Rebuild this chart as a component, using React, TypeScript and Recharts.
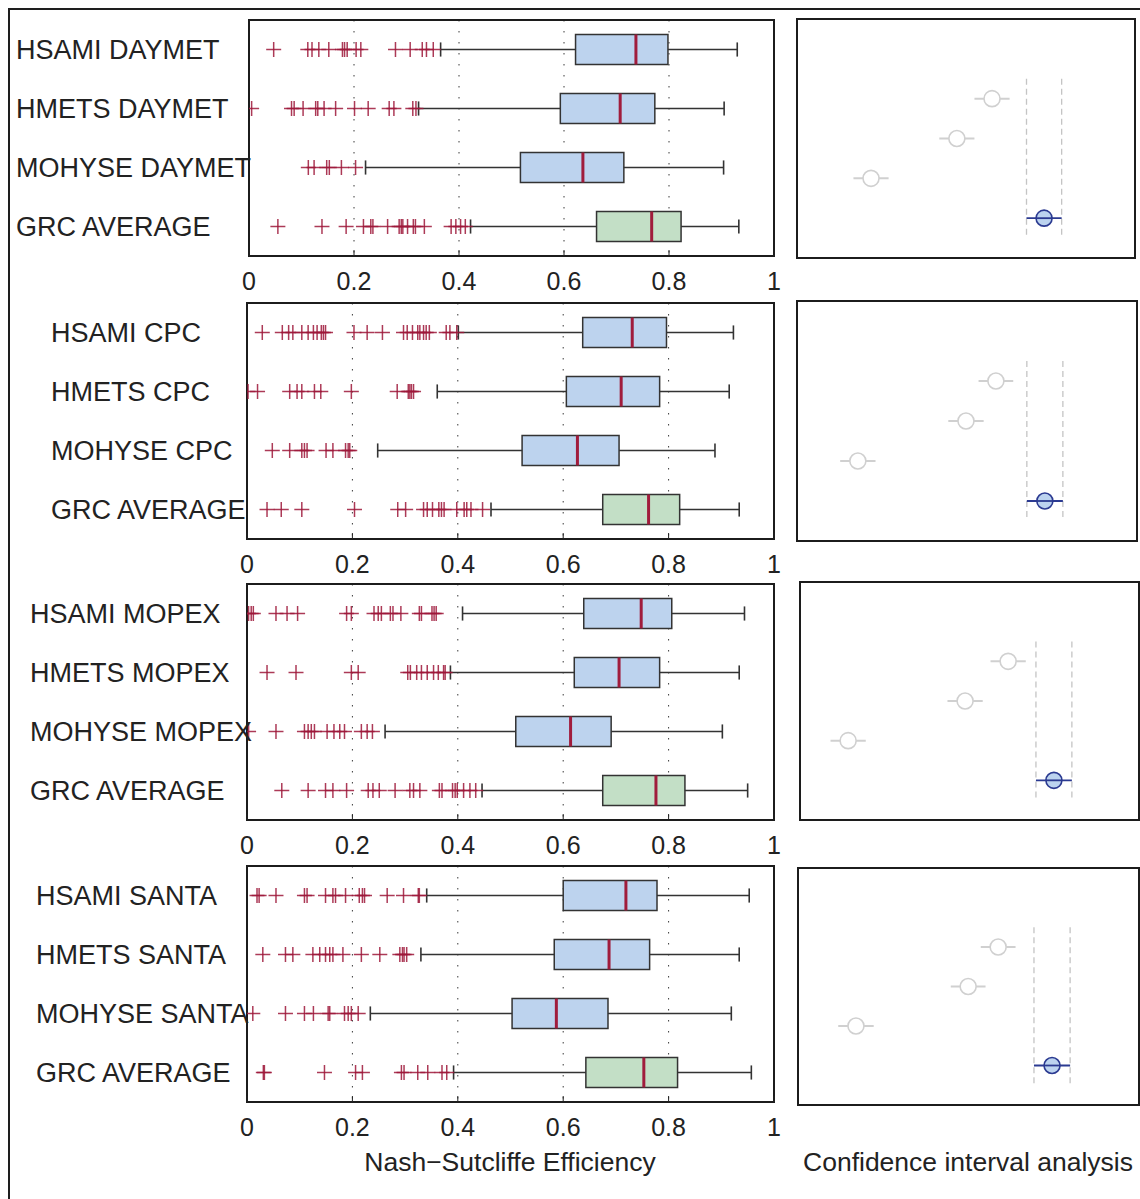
import React from 'react';
import {
  ComposedChart,
  Scatter,
  XAxis,
  YAxis,
  CartesianGrid,
  ReferenceArea,
  ReferenceLine,
  ErrorBar,
} from 'recharts';

const FONT = '"Liberation Sans", Arial, Helvetica, sans-serif';
const TEXT = '#222222';
const OUTLIER = '#9e1739';
const MEDIAN = '#a01c3c';
const BLUE_BOX = '#bdd3ee';
const GREEN_BOX = '#c3dfc6';
const EDGE = '#333333';

const xTicks = [0, 0.2, 0.4, 0.6, 0.8, 1];
const xTickLabels = ['0', '0.2', '0.4', '0.6', '0.8', '1'];
const rowTicks = [0.5, 1.5, 2.5, 3.5];
const ciXTicks = [0.25, 0.5, 0.75];
const ciYTicks = [2, 3, 4, 5];

// ---------- DAYMET ----------
const daymetNames = ['HSAMI DAYMET', 'HMETS DAYMET', 'MOHYSE DAYMET', 'GRC AVERAGE'];
const daymetQ1 = [0.622, 0.593, 0.517, 0.662];
const daymetMedian = [0.737, 0.707, 0.636, 0.767];
const daymetQ3 = [0.798, 0.773, 0.714, 0.823];
const daymetLow = [0.365, 0.323, 0.222, 0.422];
const daymetHigh = [0.93, 0.905, 0.904, 0.933];
const daymetOutliers = [
  [0.047, 0.112, 0.12, 0.133, 0.152, 0.178, 0.182, 0.187, 0.204, 0.213, 0.279, 0.307, 0.33, 0.338, 0.351],
  [0.005, 0.081, 0.086, 0.103, 0.127, 0.131, 0.143, 0.165, 0.201, 0.227, 0.267, 0.276, 0.312, 0.318],
  [0.113, 0.124, 0.148, 0.153, 0.176, 0.203],
  [0.055, 0.139, 0.185, 0.218, 0.232, 0.236, 0.264, 0.286, 0.29, 0.293, 0.302, 0.313, 0.317, 0.334, 0.385, 0.394, 0.403, 0.412],
];
const daymetCIMean = [0.577, 0.473, 0.219, 0.731];
const daymetCIHalf = [0.052, 0.052, 0.052, 0.052];

// ---------- CPC ----------
const cpcNames = ['HSAMI CPC', 'HMETS CPC', 'MOHYSE CPC', 'GRC AVERAGE'];
const cpcQ1 = [0.637, 0.606, 0.522, 0.675];
const cpcMedian = [0.731, 0.71, 0.627, 0.762];
const cpcQ3 = [0.796, 0.783, 0.706, 0.821];
const cpcLow = [0.401, 0.361, 0.248, 0.463];
const cpcHigh = [0.923, 0.915, 0.888, 0.934];
const cpcOutliers = [
  [0.029, 0.067, 0.079, 0.087, 0.104, 0.116, 0.126, 0.133, 0.141, 0.145, 0.149, 0.203, 0.228, 0.257, 0.297, 0.304, 0.314, 0.324, 0.328, 0.335, 0.34, 0.346, 0.378, 0.385, 0.398],
  [0.002, 0.02, 0.081, 0.095, 0.104, 0.128, 0.14, 0.198, 0.285, 0.306, 0.309, 0.312, 0.316],
  [0.048, 0.081, 0.104, 0.109, 0.114, 0.15, 0.163, 0.187, 0.192, 0.195],
  [0.038, 0.065, 0.104, 0.204, 0.286, 0.301, 0.335, 0.342, 0.352, 0.364, 0.369, 0.374, 0.398, 0.412, 0.417, 0.425, 0.447],
];
const cpcCIMean = [0.585, 0.497, 0.179, 0.729];
const cpcCIHalf = [0.051, 0.052, 0.052, 0.053];

// ---------- MOPEX ----------
const mopexNames = ['HSAMI MOPEX', 'HMETS MOPEX', 'MOHYSE MOPEX', 'GRC AVERAGE'];
const mopexQ1 = [0.639, 0.621, 0.51, 0.675];
const mopexMedian = [0.748, 0.706, 0.614, 0.776];
const mopexQ3 = [0.806, 0.783, 0.691, 0.831];
const mopexLow = [0.409, 0.386, 0.262, 0.446];
const mopexHigh = [0.944, 0.934, 0.902, 0.95];
const mopexOutliers = [
  [0.003, 0.008, 0.012, 0.055, 0.076, 0.096, 0.189, 0.198, 0.241, 0.249, 0.255, 0.272, 0.277, 0.292, 0.327, 0.331, 0.351, 0.355, 0.359],
  [0.038, 0.093, 0.198, 0.211, 0.305, 0.31, 0.322, 0.331, 0.342, 0.354, 0.363, 0.373, 0.376],
  [0.003, 0.055, 0.109, 0.116, 0.122, 0.128, 0.152, 0.165, 0.176, 0.185, 0.217, 0.228, 0.238],
  [0.066, 0.116, 0.149, 0.163, 0.189, 0.23, 0.239, 0.251, 0.281, 0.309, 0.316, 0.328, 0.365, 0.37, 0.39, 0.395, 0.399, 0.411, 0.423, 0.434],
];
const mopexCIMean = [0.614, 0.487, 0.142, 0.749];
const mopexCIHalf = [0.052, 0.052, 0.052, 0.053];

// ---------- SANTA ----------
const santaNames = ['HSAMI SANTA', 'HMETS SANTA', 'MOHYSE SANTA', 'GRC AVERAGE'];
const santaQ1 = [0.6, 0.583, 0.503, 0.643];
const santaMedian = [0.719, 0.687, 0.587, 0.753];
const santaQ3 = [0.778, 0.764, 0.685, 0.817];
const santaLow = [0.341, 0.33, 0.234, 0.392];
const santaHigh = [0.953, 0.934, 0.919, 0.957];
const santaOutliers = [
  [0.019, 0.023, 0.055, 0.109, 0.114, 0.149, 0.163, 0.168, 0.187, 0.213, 0.219, 0.223, 0.266, 0.297, 0.325, 0.327],
  [0.03, 0.073, 0.087, 0.125, 0.138, 0.149, 0.157, 0.163, 0.182, 0.217, 0.252, 0.29, 0.295, 0.298, 0.303],
  [0.011, 0.073, 0.109, 0.126, 0.154, 0.157, 0.185, 0.192, 0.198, 0.211],
  [0.031, 0.033, 0.147, 0.206, 0.219, 0.293, 0.298, 0.324, 0.343, 0.37, 0.379],
];
const santaCIMean = [0.587, 0.499, 0.17, 0.745];
const santaCIHalf = [0.051, 0.051, 0.052, 0.053];

const PlusMarker = (props: any) => {
  const { cx, cy } = props;
  if (cx == null || cy == null) return null;
  return (
    <g stroke={OUTLIER} strokeWidth={1.5} strokeOpacity={0.85}>
      <line x1={cx - 7.5} y1={cy} x2={cx + 7.5} y2={cy} />
      <line x1={cx} y1={cy - 7.5} x2={cx} y2={cy + 7.5} />
    </g>
  );
};

type BoxPanelProps = {
  names: string[];
  q1: number[];
  med: number[];
  q3: number[];
  lo: number[];
  hi: number[];
  outliers: number[][];
  plotLeft: number;
  plotRight: number;
  plotTop: number;
  plotBottom: number;
  labelX: number;
};

function BoxPanel(p: BoxPanelProps) {
  const chartLeft = 8;
  const marginTop = 8;
  const topAxisH = 2;
  const bottomAxisH = 40;
  const marginRight = 12;
  const width = p.plotRight - chartLeft + marginRight;
  const height = marginTop + topAxisH + (p.plotBottom - p.plotTop) + bottomAxisH;
  const top = p.plotTop - marginTop - topAxisH;
  const outlierData = p.outliers.flatMap((row, i) => row.map((v) => ({ x: v, y: i + 0.5 })));
  const halfBox = 0.254;
  const halfCap = 0.12;

  const renderLabel = (props: any) => {
    const { y, payload } = props;
    const idx = Math.floor(payload.value);
    return (
      <text
        x={p.labelX - chartLeft}
        y={y}
        dy="0.36em"
        textAnchor="start"
        fill={TEXT}
        fontSize={27}
        fontFamily={FONT}
      >
        {p.names[idx]}
      </text>
    );
  };

  return (
    <div style={{ position: 'absolute', left: chartLeft, top, width, height }}>
      <ComposedChart
        width={width}
        height={height}
        margin={{ top: marginTop, right: marginRight, bottom: 0, left: 0 }}
      >
        <CartesianGrid horizontal={false} vertical stroke="#3a3a3a" strokeDasharray="1.5 9.5" />
        <XAxis
          dataKey="x"
          type="number"
          domain={[0, 1]}
          allowDataOverflow
          ticks={xTicks}
          interval={0}
          tickFormatter={(v: number) => xTickLabels[xTicks.indexOf(v)] ?? String(v)}
          axisLine={false}
          tickSize={-6}
          tickMargin={22}
          height={bottomAxisH}
          tickLine={{ stroke: '#222', strokeWidth: 1 }}
          tick={{ fill: TEXT, fontSize: 25, fontFamily: FONT }}
        />
        <XAxis
          xAxisId="top"
          orientation="top"
          type="number"
          domain={[0, 1]}
          allowDataOverflow
          ticks={xTicks}
          interval={0}
          tick={false}
          axisLine={false}
          tickSize={-6}
          height={topAxisH}
          tickLine={{ stroke: '#222', strokeWidth: 1 }}
        />
        <YAxis
          dataKey="y"
          type="number"
          domain={[0, 4]}
          reversed
          allowDataOverflow
          ticks={rowTicks}
          interval={0}
          width={p.plotLeft - chartLeft}
          axisLine={false}
          tickLine={false}
          tick={renderLabel}
        />
        {p.names.map((name, i) => {
          const r = i + 0.5;
          return (
            <React.Fragment key={name}>
              <ReferenceLine
                segment={[{ x: p.lo[i], y: r }, { x: p.q1[i], y: r }]}
                stroke={EDGE}
                strokeWidth={1.4}
                ifOverflow="visible"
              />
              <ReferenceLine
                segment={[{ x: p.q3[i], y: r }, { x: p.hi[i], y: r }]}
                stroke={EDGE}
                strokeWidth={1.4}
                ifOverflow="visible"
              />
              <ReferenceLine
                segment={[{ x: p.lo[i], y: r - halfCap }, { x: p.lo[i], y: r + halfCap }]}
                stroke={EDGE}
                strokeWidth={1.6}
                ifOverflow="visible"
              />
              <ReferenceLine
                segment={[{ x: p.hi[i], y: r - halfCap }, { x: p.hi[i], y: r + halfCap }]}
                stroke={EDGE}
                strokeWidth={1.6}
                ifOverflow="visible"
              />
              <ReferenceArea
                x1={p.q1[i]}
                x2={p.q3[i]}
                y1={r - halfBox}
                y2={r + halfBox}
                fill={name.startsWith('GRC') ? GREEN_BOX : BLUE_BOX}
                fillOpacity={1}
                stroke={EDGE}
                strokeWidth={1.5}
                ifOverflow="visible"
              />
              <ReferenceLine
                segment={[{ x: p.med[i], y: r - halfBox }, { x: p.med[i], y: r + halfBox }]}
                stroke={MEDIAN}
                strokeWidth={3}
                ifOverflow="visible"
              />
            </React.Fragment>
          );
        })}
        <Scatter data={outlierData} isAnimationActive={false} shape={PlusMarker} />
        <ReferenceArea
          x1={0}
          x2={1}
          y1={0}
          y2={4}
          fill="none"
          fillOpacity={0}
          stroke="#1c1c1c"
          strokeWidth={2}
          ifOverflow="visible"
        />
      </ComposedChart>
    </div>
  );
}

const GreyCircle = (props: any) => {
  const { cx, cy } = props;
  if (cx == null || cy == null) return null;
  return <circle cx={cx} cy={cy} r={8} fill="#ffffff" stroke="#d0d0d0" strokeWidth={1.6} />;
};

const BlueCircle = (props: any) => {
  const { cx, cy } = props;
  if (cx == null || cy == null) return null;
  return (
    <g>
      <circle cx={cx} cy={cy} r={8} fill="#bcd3ef" stroke="#2b3a91" strokeWidth={1.6} />
      <line x1={cx - 8} y1={cy} x2={cx + 8} y2={cy} stroke="#2b3a91" strokeWidth={1.8} />
    </g>
  );
};

type CIPanelProps = {
  mean: number[];
  half: number[];
  left: number;
  right: number;
  top: number;
  bottom: number;
};

function CIPanel(p: CIPanelProps) {
  const axisW = 8;
  const marginY = 4;
  const axisH = 2;
  const chartLeft = p.left - axisW;
  const width = p.right - p.left + 2 * axisW;
  const chartTop = p.top - marginY - axisH;
  const height = p.bottom - p.top + 2 * (marginY + axisH);
  const grey = p.mean.slice(0, 3).map((m, i) => ({ x: m, y: i + 2, err: p.half[i] }));
  const grc = [{ x: p.mean[3], y: 5, err: p.half[3] }];
  const ciLo = p.mean[3] - p.half[3];
  const ciHi = p.mean[3] + p.half[3];
  const tl = { stroke: '#333', strokeWidth: 1 };
  return (
    <div style={{ position: 'absolute', left: chartLeft, top: chartTop, width, height }}>
      <ComposedChart width={width} height={height} margin={{ top: marginY, right: 0, bottom: marginY, left: 0 }}>
        <XAxis
          dataKey="x"
          type="number"
          domain={[0, 1]}
          allowDataOverflow
          ticks={ciXTicks}
          interval={0}
          tick={false}
          axisLine={false}
          tickSize={-6}
          height={axisH}
          tickLine={tl}
        />
        <XAxis
          xAxisId="top"
          orientation="top"
          type="number"
          domain={[0, 1]}
          allowDataOverflow
          ticks={ciXTicks}
          interval={0}
          tick={false}
          axisLine={false}
          tickSize={-6}
          height={axisH}
          tickLine={tl}
        />
        <YAxis
          dataKey="y"
          type="number"
          domain={[0, 6]}
          reversed
          allowDataOverflow
          ticks={ciYTicks}
          interval={0}
          tick={false}
          axisLine={false}
          tickSize={-6}
          width={axisW}
          tickLine={tl}
        />
        <YAxis
          yAxisId="right"
          orientation="right"
          type="number"
          domain={[0, 6]}
          reversed
          allowDataOverflow
          ticks={ciYTicks}
          interval={0}
          tick={false}
          axisLine={false}
          tickSize={-6}
          width={axisW}
          tickLine={tl}
        />
        <ReferenceLine
          segment={[{ x: ciLo, y: 1.5 }, { x: ciLo, y: 5.5 }]}
          stroke="#c4c4c4"
          strokeWidth={1.3}
          strokeDasharray="6 4"
          ifOverflow="visible"
        />
        <ReferenceLine
          segment={[{ x: ciHi, y: 1.5 }, { x: ciHi, y: 5.5 }]}
          stroke="#c4c4c4"
          strokeWidth={1.3}
          strokeDasharray="6 4"
          ifOverflow="visible"
        />
        <Scatter data={grey} isAnimationActive={false} shape={GreyCircle}>
          <ErrorBar dataKey="err" direction="x" width={0} stroke="#d0d0d0" strokeWidth={2} />
        </Scatter>
        <Scatter data={grc} isAnimationActive={false} shape={BlueCircle}>
          <ErrorBar dataKey="err" direction="x" width={0} stroke="#2b3a91" strokeWidth={1.8} />
        </Scatter>
        <ReferenceArea
          x1={0}
          x2={1}
          y1={0}
          y2={6}
          fill="none"
          fillOpacity={0}
          stroke="#1c1c1c"
          strokeWidth={2}
          ifOverflow="visible"
        />
      </ComposedChart>
    </div>
  );
}

export default function App() {
  return (
    <div
      style={{
        position: 'absolute',
        left: 0,
        top: 0,
        width: 1140,
        height: 1199,
        overflow: 'hidden',
        background: '#ffffff',
        fontFamily: FONT,
      }}
    >
      <div
        style={{
          position: 'absolute',
          left: 8,
          top: 8,
          width: 1140,
          height: 1199,
          borderLeft: '2px solid #1e1e1e',
          borderTop: '2px solid #1e1e1e',
          boxSizing: 'border-box',
        }}
      />
      <BoxPanel
        names={daymetNames}
        q1={daymetQ1}
        med={daymetMedian}
        q3={daymetQ3}
        lo={daymetLow}
        hi={daymetHigh}
        outliers={daymetOutliers}
        plotLeft={249}
        plotRight={774}
        plotTop={20}
        plotBottom={256}
        labelX={16}
      />
      <BoxPanel
        names={cpcNames}
        q1={cpcQ1}
        med={cpcMedian}
        q3={cpcQ3}
        lo={cpcLow}
        hi={cpcHigh}
        outliers={cpcOutliers}
        plotLeft={247}
        plotRight={774}
        plotTop={303}
        plotBottom={539}
        labelX={51}
      />
      <BoxPanel
        names={mopexNames}
        q1={mopexQ1}
        med={mopexMedian}
        q3={mopexQ3}
        lo={mopexLow}
        hi={mopexHigh}
        outliers={mopexOutliers}
        plotLeft={247}
        plotRight={774}
        plotTop={584}
        plotBottom={820}
        labelX={30}
      />
      <BoxPanel
        names={santaNames}
        q1={santaQ1}
        med={santaMedian}
        q3={santaQ3}
        lo={santaLow}
        hi={santaHigh}
        outliers={santaOutliers}
        plotLeft={247}
        plotRight={774}
        plotTop={866}
        plotBottom={1102}
        labelX={36}
      />
      <CIPanel mean={daymetCIMean} half={daymetCIHalf} left={797} right={1135} top={19} bottom={258} />
      <CIPanel mean={cpcCIMean} half={cpcCIHalf} left={797} right={1137} top={301} bottom={541} />
      <CIPanel mean={mopexCIMean} half={mopexCIHalf} left={800} right={1139} top={582} bottom={820} />
      <CIPanel mean={santaCIMean} half={santaCIHalf} left={798} right={1139} top={868} bottom={1105} />
      <div
        style={{
          position: 'absolute',
          left: 260,
          top: 1149,
          width: 500,
          textAlign: 'center',
          fontSize: 26.5,
          lineHeight: '26px',
          color: TEXT,
          whiteSpace: 'nowrap',
        }}
      >
        Nash−Sutcliffe Efficiency
      </div>
      <div
        style={{
          position: 'absolute',
          left: 768,
          top: 1149,
          width: 400,
          textAlign: 'center',
          fontSize: 26.5,
          lineHeight: '26px',
          color: TEXT,
          whiteSpace: 'nowrap',
        }}
      >
        Confidence interval analysis
      </div>
    </div>
  );
}
